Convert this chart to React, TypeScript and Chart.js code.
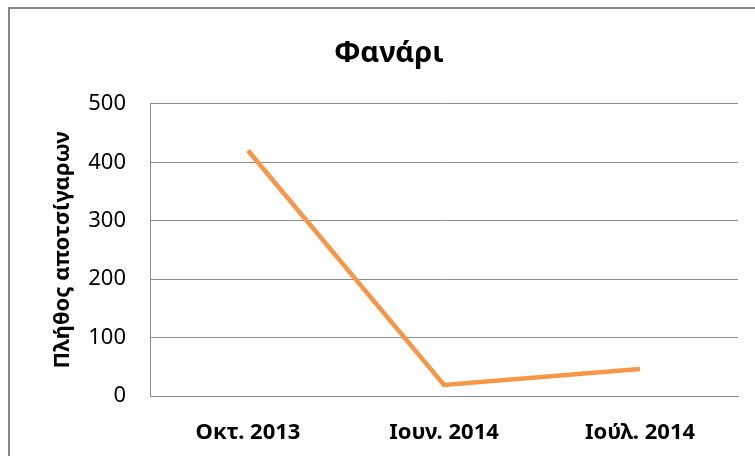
import React, { useEffect, useRef } from "react";
import { Chart, registerables } from "chart.js";

Chart.register(...registerables);

const categories = ["Οκτ. 2013", "Ιουν. 2014", "Ιούλ. 2014"];
const values = [420, 19, 46];
const yTicks = [0, 100, 200, 300, 400, 500];
const titleText = "Φανάρι";
const yTitle = "Πλήθος αποτσίγαρων";

const FONT = "'Noto Sans', 'Open Sans', sans-serif";

const framePlugin = {
  id: "frame",
  beforeDraw(chart: any) {
    const ctx = chart.ctx;
    ctx.save();
    ctx.fillStyle = "#ffffff";
    ctx.fillRect(0, 0, chart.width, chart.height);
    ctx.strokeStyle = "#868686";
    ctx.lineWidth = 2;
    ctx.strokeRect(9, 8, chart.width + 20, chart.height + 20);
    ctx.restore();
  },
};

export default function App() {
  const ref = useRef<HTMLCanvasElement | null>(null);
  useEffect(() => {
    document.body.style.margin = "0";
    const chart = new Chart(ref.current as HTMLCanvasElement, {
      type: "line",
      data: {
        labels: categories,
        datasets: [
          {
            data: values,
            borderColor: "#F79646",
            borderWidth: 4.5,
            pointRadius: 0,
            tension: 0,
            fill: false,
          },
        ],
      },
      options: {
        animation: false,
        responsive: false,
        layout: { padding: { left: 40, right: 17, top: 0, bottom: 0 } },
        plugins: {
          legend: { display: false },
          tooltip: { enabled: false },
          title: {
            display: true,
            text: titleText,
            color: "#000",
            font: { family: FONT, size: 29, weight: "bold" },
            padding: { top: 36, bottom: 33 },
          },
        },
        scales: {
          x: {
            offset: true,
            grid: { display: false, drawTicks: false },
            border: { display: true, color: "#8c8c8c", width: 1 },
            ticks: {
              color: "#000",
              padding: 24,
              maxRotation: 0,
              font: { family: FONT, size: 22, weight: "bold" },
            },
            afterFit: (s: any) => {
              s.height = 60;
            },
          },
          y: {
            min: 0,
            max: 500,
            afterBuildTicks: (s: any) => {
              s.ticks = yTicks.map((v) => ({ value: v }));
            },
            grid: { color: "#8c8c8c", drawTicks: false, lineWidth: 1 },
            border: { display: true, color: "#8c8c8c", width: 1 },
            ticks: {
              color: "#000",
              padding: 24,
              font: { family: FONT, size: 22 },
            },
            title: {
              display: true,
              text: yTitle,
              color: "#000",
              font: { family: FONT, size: 22, weight: "bold" },
              padding: { top: 10, bottom: 0 },
            },
            afterFit: (s: any) => {
              s.width = 110;
            },
          },
        },
      },
      plugins: [framePlugin],
    });
    return () => chart.destroy();
  }, []);
  return <canvas ref={ref} width={755} height={456} style={{ display: "block" }} />;
}
